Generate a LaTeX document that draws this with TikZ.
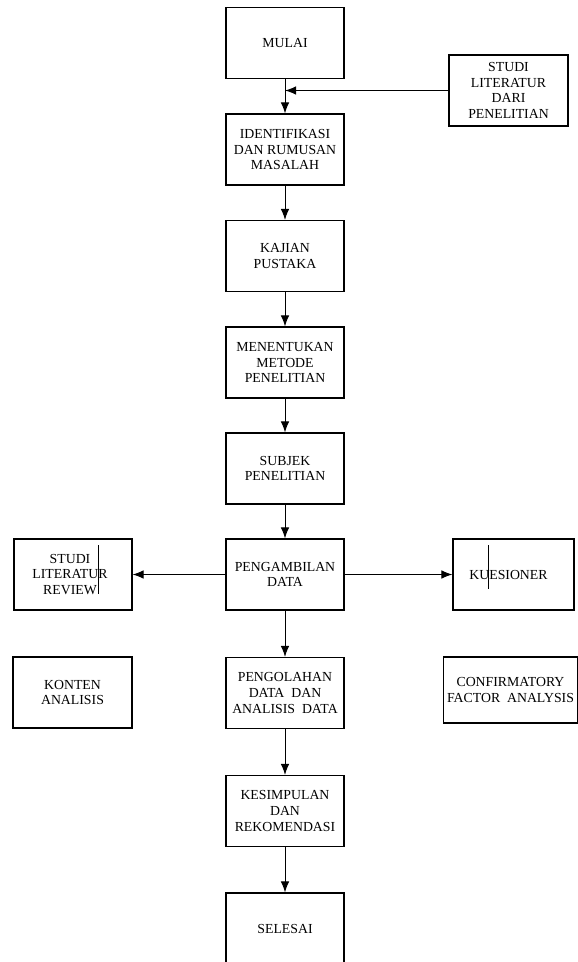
\documentclass[tikz,border=0pt]{standalone}
\usepackage{fontspec}
\setmainfont{Liberation Serif}
\usepackage{tikz}
\usetikzlibrary{arrows.meta}
\tikzset{
	boxstyle/.style={rectangle,draw=black,line width=1.1pt,fill=white,align=center,inner sep=2pt,
		minimum width=118pt,minimum height=71pt,font=\fontsize{13.8pt}{15.7pt}\selectfont},
	arrowstyle/.style={-{Latex[length=11pt,width=8.5pt]},line width=1pt},
	cursorstyle/.style={line width=1pt}
}
\begin{document}
\begin{tikzpicture}[x=1pt,y=-1pt]
	\useasboundingbox (0,0) rectangle (578,962);
	\node[boxstyle] (mulai) at (285,43) {MULAI};
	\node[boxstyle] (identifikasi) at (285,149.5) {IDENTIFIKASI\\DAN RUMUSAN\\MASALAH};
	\node[boxstyle] (kajian) at (285,256) {KAJIAN\\PUSTAKA};
	\node[boxstyle] (metode) at (285,362.5) {MENENTUKAN\\METODE\\PENELITIAN};
	\node[boxstyle] (subjek) at (285,468.5) {SUBJEK\\PENELITIAN};
	\node[boxstyle] (pengambilan) at (285,574.5) {PENGAMBILAN\\DATA};
	\node[boxstyle] (pengolahan) at (285,693) {PENGOLAHAN\\DATA~ DAN\\ANALISIS~ DATA};
	\node[boxstyle] (kesimpulan) at (285,811) {KESIMPULAN\\DAN\\REKOMENDASI};
	\node[boxstyle] (selesai) at (285,928.5) {SELESAI};
	\node[boxstyle,minimum width=119pt] (studi) at (508.5,90.5) {STUDI\\LITERATUR\\DARI\\PENELITIAN};
	\node[boxstyle] (review) at (73,574.5) {\hspace*{-6pt}STUDI\\\hspace*{-6pt}LITERATUR\\\hspace*{-6pt}REVIEW};
	\node[boxstyle,minimum width=121pt] (kuesioner) at (513.5,574.5) {\hspace*{-10pt}KUESIONER};
	\node[boxstyle,minimum width=119pt] (konten) at (72.5,692.5) {KONTEN\\ANALISIS};
	\node[boxstyle,minimum width=134pt,minimum height=66pt] (cfa) at (510.5,690) {CONFIRMATORY\\FACTOR~ ANALYSIS};
	\coordinate (masuk) at (mulai.south |- studi.west);
	\draw[arrowstyle] (mulai)--(identifikasi);
	\draw[arrowstyle] (studi)--(masuk);
	\draw[arrowstyle] (identifikasi)--(kajian);
	\draw[arrowstyle] (kajian)--(metode);
	\draw[arrowstyle] (metode)--(subjek);
	\draw[arrowstyle] (subjek)--(pengambilan);
	\draw[arrowstyle] (pengambilan)--(review);
	\draw[arrowstyle] (pengambilan)--(kuesioner);
	\draw[arrowstyle] (pengambilan)--(pengolahan);
	\draw[arrowstyle] (pengolahan)--(kesimpulan);
	\draw[arrowstyle] (kesimpulan)--(selesai);
	% stray marks inside two boxes
	\draw[cursorstyle] (98,545)--(98,594);
	\draw[cursorstyle] (488,545)--(488,589);
\end{tikzpicture}
\end{document}
